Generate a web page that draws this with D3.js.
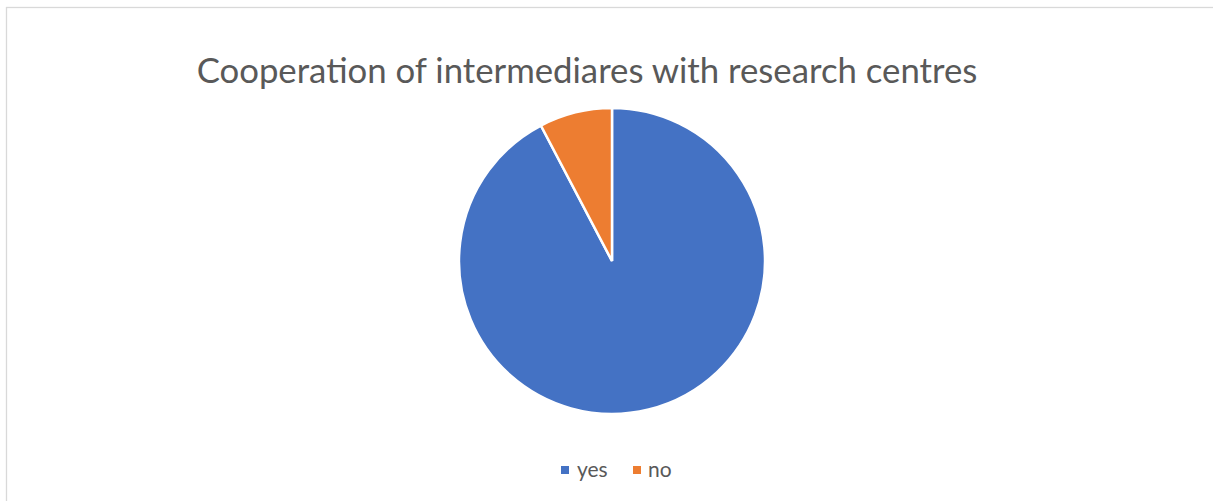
<!DOCTYPE html>
<html>
<head>
<meta charset="utf-8">
<script src="https://cdn.jsdelivr.net/npm/d3@7"></script>
<style>
  html, body { margin: 0; padding: 0; background: #fff; }
  svg { display: block; }
</style>
</head>
<body>
<svg id="chart" width="1213" height="501"></svg>
<script>
// Survey answers
const categories = ["yes", "no"];
const counts = [12, 1];
const colors = ["#4472C4", "#ED7D31"];
const titleText = "Cooperation of intermediares with research centres";

const svg = d3.select("#chart");
const W = 1213, H = 501;

// chart frame
svg.append("rect")
  .attr("x", 6.5).attr("y", 7.5)
  .attr("width", W + 10).attr("height", H + 10)
  .attr("fill", "#fff")
  .attr("stroke", "#d9d9d9")
  .attr("stroke-width", 1.3);

// title
const title = svg.append("text")
  .attr("x", 587).attr("y", 83)
  .attr("text-anchor", "middle")
  .attr("fill", "#595959")
  .style("font-family", "Lato, 'Open Sans', sans-serif")
  .style("font-size", "34px")
  .text(titleText);
const tw = title.node().getComputedTextLength();
title.style("font-size", (34 * 781 / tw) + "px");

// pie
const cx = 612, cy = 261, r = 153;
const pie = d3.pie().sort(null).value(d => d.value)
  .startAngle(0).endAngle(2 * Math.PI);
const data = categories.map((c, i) => ({ name: c, value: counts[i], color: colors[i] }));
const arc = d3.arc().innerRadius(0).outerRadius(r);

svg.append("g")
  .attr("transform", `translate(${cx},${cy})`)
  .selectAll("path")
  .data(pie(data))
  .join("path")
  .attr("d", arc)
  .attr("fill", d => d.data.color)
  .attr("stroke", "#fff")
  .attr("stroke-width", 2.5)
  .attr("stroke-linejoin", "miter");

// legend
const legendItems = [
  { sx: 561, tx: 577 },
  { sx: 633, tx: 648 }
];
const lg = svg.append("g");
data.forEach((d, i) => {
  lg.append("rect")
    .attr("x", legendItems[i].sx).attr("y", 466)
    .attr("width", 8).attr("height", 8)
    .attr("fill", d.color);
  lg.append("text")
    .attr("x", legendItems[i].tx).attr("y", 477)
    .attr("fill", "#595959")
    .style("font-family", "Lato, 'Open Sans', sans-serif")
    .style("font-size", "21px")
    .text(d.name);
});
</script>
</body>
</html>
